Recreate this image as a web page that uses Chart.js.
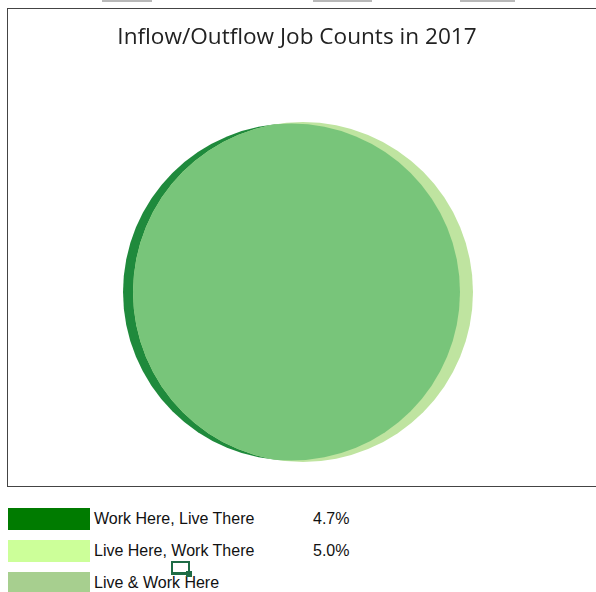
<!DOCTYPE html>
<html>
<head>
<meta charset="utf-8">
<script src="https://cdn.jsdelivr.net/npm/chart.js@4.4.1/dist/chart.umd.min.js"></script>
<style>
  body { margin: 0; background: #fff; width: 596px; height: 592px; overflow: hidden; position: relative; font-family: "Liberation Sans", Arial, sans-serif; }
  .tab { position: absolute; top: 0; height: 2px; background: #b8b8b8; }
  #box { position: absolute; left: 7px; top: 8px; width: 592px; height: 477px; border: 1px solid #444; box-sizing: content-box; }
  #box canvas { display: block; }
  #legend { position: absolute; left: 8px; top: 508px; }
  .row { position: relative; height: 32px; }
  .sw { position: absolute; left: 0; top: 0; width: 82px; height: 22px; }
  .lbl { position: absolute; left: 86px; top: 2px; font-size: 16px; color: #111; white-space: nowrap; }
  .pct { position: absolute; left: 305px; top: 2px; font-size: 16px; color: #111; }
  #cursor { position: absolute; left: 171px; top: 561px; width: 15px; height: 9px; border: 2px solid #1e6b45; border-bottom-width: 3px; }
  #cursor::after { content: ""; position: absolute; right: -4px; bottom: -5px; width: 6px; height: 6px; background: #1e6b45; }
</style>
</head>
<body>
<div class="tab" style="left:102px;width:50px"></div>
<div class="tab" style="left:313px;width:59px"></div>
<div class="tab" style="left:460px;width:55px"></div>
<div id="box"><canvas id="venn" width="592" height="477"></canvas></div>
<div id="legend"></div>
<div id="cursor"></div>
<script>
// legend categories and shares
var categories = ["Work Here, Live There", "Live Here, Work There", "Live & Work Here"];
var shares = [4.7, 5.0, null];
var legendColors = ["#007b00", "#ccff99", "#a7cf8f"];

// the two circles (work here / live here), in chart units
var circleNames = ["Work Here", "Live Here"];
var circleX = [-0.95, 1.04];
var circleY = [-3.7, -3.7];
var circleR = [29.15, 29.41];
var circleColors = ["#1f8a3c", "#bfe4a0"];
var overlapColor = "#78c57a";

var legend = document.getElementById("legend");
categories.forEach(function (name, i) {
  var row = document.createElement("div");
  row.className = "row";
  row.innerHTML = '<div class="sw" style="background:' + legendColors[i] + '"></div>' +
    '<div class="lbl">' + name + '</div>' +
    (shares[i] != null ? '<div class="pct">' + shares[i].toFixed(1) + '%</div>' : "");
  legend.appendChild(row);
});

// radius in chart units -> pixels, through the x scale
function pxRadius(chart, i) {
  var xs = chart.scales.x;
  return Math.abs(xs.getPixelForValue(circleX[i] + circleR[i]) - xs.getPixelForValue(circleX[i]));
}

// overlap = light circle clipped by dark circle
var overlapPlugin = {
  id: "overlap",
  afterDatasetsDraw: function (chart) {
    var meta = chart.getDatasetMeta(0);
    var a = meta.data[1], b = meta.data[0];
    var ctx = chart.ctx;
    ctx.save();
    ctx.beginPath();
    ctx.arc(b.x, b.y, pxRadius(chart, 0), 0, Math.PI * 2);
    ctx.clip();
    ctx.beginPath();
    ctx.arc(a.x, a.y, pxRadius(chart, 1), 0, Math.PI * 2);
    ctx.fillStyle = overlapColor;
    ctx.fill();
    ctx.restore();
  }
};

var ctx = document.getElementById("venn").getContext("2d");
var vennChart = new Chart(ctx, {
  type: "bubble",
  data: {
    labels: circleNames,
    datasets: [
      {
        label: "circles",
        data: circleX.map(function (x, i) { return { x: x, y: circleY[i], r: 0 }; }),
        backgroundColor: circleColors,
        borderWidth: 0,
        clip: false,
      },
    ],
  },
  options: {
    responsive: false,
    animation: false,
    events: [],
    layout: { padding: { left: 0, right: 14, top: 0, bottom: 0 }, autoPadding: false },
    scales: {
      x: { display: false, min: -50, max: 50 },
      y: { display: false, min: -50, max: 50 },
    },
    plugins: {
      legend: { display: false },
      tooltip: { enabled: false },
      title: {
        display: true,
        text: "Inflow/Outflow Job Counts in 2017",
        color: "#222",
        font: { family: "Open Sans", size: 22.6, weight: "normal" },
        padding: { top: 15, bottom: 16 },
      },
    },
  },
  plugins: [overlapPlugin],
});

// bubble r is in pixels, so set it once the scales are laid out
vennChart.data.datasets[0].data.forEach(function (d, i) {
  d.r = pxRadius(vennChart, i);
});
vennChart.update();
</script>
</body>
</html>
